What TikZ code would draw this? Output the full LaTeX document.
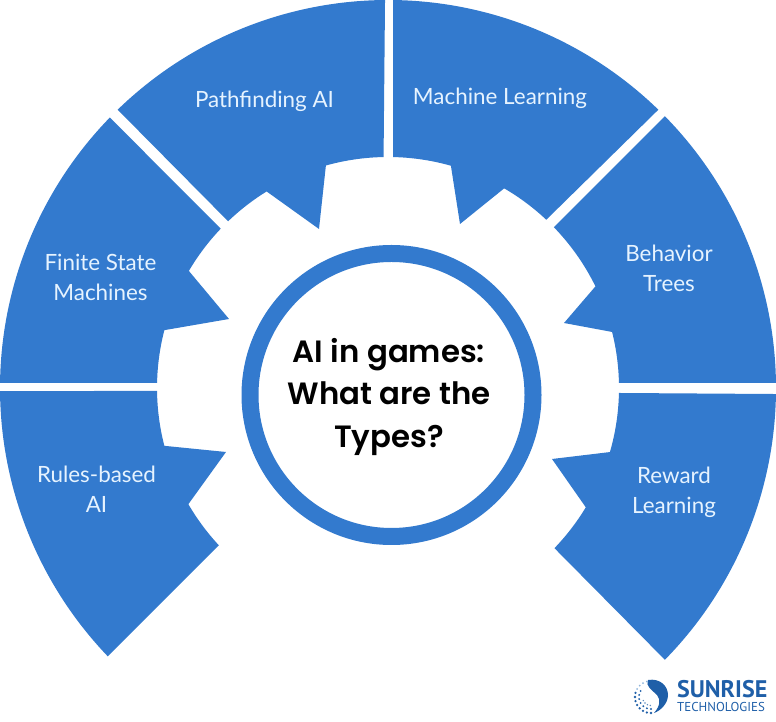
\documentclass[tikz,border=0pt]{standalone}
\usepackage{fontspec}
\setmainfont{Lato}
\newfontfamily\titlefont{Poppins}[BoldFont={Poppins SemiBold}]
\newfontfamily\logofont{PT Sans}
\definecolor{wedgeblue}{HTML}{337ACE}
\definecolor{labelpale}{HTML}{E6F3FF}
\definecolor{logoblue}{HTML}{1F5FA8}
\definecolor{logolight}{HTML}{8DB4DC}
\tikzset{
  wedge/.style={fill=wedgeblue,draw=none},
  lbl/.style={text=labelpale,align=center,font=\fontsize{22.4}{30}\selectfont,inner sep=0pt},
  ttl/.style={text=black,align=center,font=\titlefont\bfseries\fontsize{30.8}{42.5}\selectfont,inner sep=0pt}
}
\begin{document}
\begin{tikzpicture}[x=1pt,y=1pt]
\useasboundingbox (0,0) rectangle (776,722);
\coordinate (C) at (388,334);
\coordinate (R) at (391.5,327);
% Rules-based AI
\path[wedge] ([shift={(180.45:388)}]C) -- ([shift={(180.74:231)}]C)
  arc[start angle=180.74,end angle=194.5,radius=231pt]
  -- (226,270) -- ([shift={(210.2:231)}]C)
  arc[start angle=210.2,end angle=222.9,radius=231pt]
  -- ([shift={(223.75:388)}]C)
  arc[start angle=223.75,end angle=180.45,radius=388pt] -- cycle;
% Finite State Machines
\path[wedge] ([shift={(178.76:231)}]C)
  arc[start angle=178.76,end angle=165.5,radius=231pt]
  -- (229,403) -- ([shift={(149.55:231)}]C)
  arc[start angle=149.55,end angle=136.4,radius=231pt]
  -- ([shift={(135.8:388)}]C)
  arc[start angle=135.8,end angle=179.26,radius=388pt] -- cycle;
% Pathfinding AI
\path[wedge] ([shift={(134.17:388)}]C) -- ([shift={(133.8:231)}]C)
  arc[start angle=133.8,end angle=121.7,radius=231pt]
  -- (319,493) -- ([shift={(105.6:231)}]C)
  arc[start angle=105.6,end angle=91.1,radius=231pt]
  -- ([shift={(90.44:388)}]C)
  arc[start angle=90.44,end angle=134.17,radius=388pt] -- cycle;
% Machine Learning
\path[wedge] ([shift={(88.76:231)}]C)
  arc[start angle=88.76,end angle=74.2,radius=231pt]
  -- (460,498) -- ([shift={(59.8:231)}]C)
  arc[start angle=59.8,end angle=46.75,radius=231pt]
  -- ([shift={(45.83:388)}]C)
  arc[start angle=45.83,end angle=89.26,radius=388pt] -- cycle;
% Behavior Trees
\path[wedge] ([shift={(44.47:388)}]C) -- ([shift={(44.1:231)}]C)
  arc[start angle=44.1,end angle=26.1,radius=231pt]
  -- (564,399) -- ([shift={(14.04:231)}]C)
  arc[start angle=14.04,end angle=1.25,radius=231pt]
  -- ([shift={(0.74:388)}]C)
  arc[start angle=0.74,end angle=44.47,radius=388pt] -- cycle;
% Reward Learning
\path[wedge] ([shift={(-1.24:231)}]C) -- ([shift={(-0.89:388)}]C)
  arc[start angle=-0.89,end angle=-44.47,radius=388pt]
  -- ([shift={(-43.9:231)}]C)
  arc[start angle=-43.9,end angle=-31.1,radius=231pt]
  -- (552,263) -- ([shift={(-16.1:231)}]C)
  arc[start angle=-16.1,end angle=-1.24,radius=231pt] -- cycle;
% Ring
\draw[wedgeblue,line width=17pt,fill=white] (R) circle[radius=141.5pt];
% Labels
\node[lbl] (pf) at (264.5,620.5) {Pathfinding AI};
\node[lbl] (ml) at (500,624) {Machine Learning};
\node[lbl] (fs) at (100.5,445) {Finite State\\Machines};
\node[lbl] (bt) at (669,454) {Behavior\\Trees};
\node[lbl] (rb) at (96.5,232.5) {Rules-based\\AI};
\node[lbl] (rl) at (674,230) {Reward\\Learning};
\node[ttl] (title) at (389,325.5) {AI in games:\\What are the\\Types?};
% Logo mark
\coordinate (LG) at (651,25);
\fill[logoblue] (648,42) .. controls (660,44) and (668,36) .. (668,27)
  .. controls (668,18) and (660,11) .. (654,9)
  .. controls (660,16) and (661,22) .. (657,27)
  .. controls (652,32) and (645,36) .. (648,42) -- cycle;
\foreach \a in {105,120,135,150}
  \fill[logolight] ([shift={(\a:16)}]LG) circle[radius=1pt];
\foreach \a in {165,180,195,210,225,240,255,270}
  \fill[logoblue] ([shift={(\a:16)}]LG) circle[radius=1.3pt];
\foreach \a in {150,170,190,210,230,250,270}
  \fill[logoblue] ([shift={(\a:12)}]LG) circle[radius=1.1pt];
\foreach \a in {205,225,245,265}
  \fill[logoblue!70] ([shift={(\a:8.5)}]LG) circle[radius=.8pt];
% Logo text
\node[text=logoblue,inner sep=0pt,anchor=west,font=\logofont\bfseries\fontsize{24}{24}\selectfont] (lg1) at (677,33) {SUNRISE};
\node[text=logoblue,inner sep=0pt,anchor=west,font=\logofont\fontsize{12.9}{12.9}\selectfont] (lg2) at (677,15) {TECHNOLOGIES};
\end{tikzpicture}
\end{document}
